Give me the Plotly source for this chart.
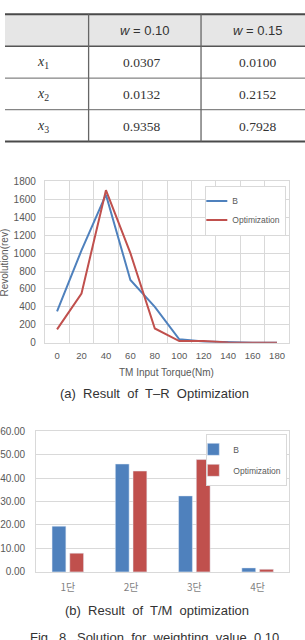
import plotly.graph_objects as go

# ---------------- data ----------------
torque_labels = ["0", "20", "40", "60", "80", "100", "120", "140", "160", "180"]
rev_B = [350, 1030, 1650, 700, 400, 40, 15, 5, 2, 0]
rev_opt = [150, 550, 1700, 1000, 160, 20, 20, 5, 2, 0]

stage_labels = ["1단", "2단", "3단", "4단"]
share_B = [19.5, 46.0, 32.4, 1.7]
share_opt = [8.0, 43.0, 47.9, 1.1]

table_header = ["", "<i>w</i> = 0.10", "<i>w</i> = 0.15"]
table_rows = ["<i>x</i><sub>1</sub>", "<i>x</i><sub>2</sub>", "<i>x</i><sub>3</sub>"]
col_w010 = ["0.0307", "0.0132", "0.9358"]
col_w015 = ["0.0100", "0.2152", "0.7928"]

caption_a = "(a)\u00a0 Result\u00a0 of\u00a0 T\u2013R\u00a0 Optimization"
caption_b = "(b)\u00a0 Result\u00a0 of\u00a0 T/M\u00a0 optimization"
caption_fig = "Fig.\u00a0 8.\u00a0 Solution\u00a0 for\u00a0 weighting\u00a0 value\u00a0 0.10"

W, H = 305, 640
BLUE = "#4f81bd"
RED = "#c0504d"
GRID = "#d9d9d9"
TICK = "#595959"
SANS = "Liberation Sans, Arial, sans-serif"
KR = "Noto Sans CJK KR, sans-serif"


def px(p):
    return p / W


def py(p):
    return 1 - p / H


fig = go.Figure()

fig.add_trace(go.Scatter(x=torque_labels, y=rev_B, mode="lines", name="B",
                         line=dict(color=BLUE, width=2), xaxis="x", yaxis="y",
                         legend="legend"))
fig.add_trace(go.Scatter(x=torque_labels, y=rev_opt, mode="lines", name="Optimization",
                         line=dict(color=RED, width=2), xaxis="x", yaxis="y",
                         legend="legend"))

fig.add_trace(go.Bar(x=stage_labels, y=share_B, name="B", marker_color=BLUE,
                     xaxis="x2", yaxis="y2", legend="legend2", legendgroup="g1"))
fig.add_trace(go.Bar(x=stage_labels, y=share_opt, name="Optimization", marker_color=RED,
                     xaxis="x2", yaxis="y2", legend="legend2", legendgroup="g2"))

axis_common = dict(showline=True, mirror=True, linecolor=GRID, linewidth=1,
                   gridcolor=GRID, gridwidth=1, zeroline=False,
                   tickfont=dict(family=SANS, size=10, color=TICK))

fig.update_layout(
    width=W, height=H, autosize=False,
    margin=dict(l=0, r=0, t=0, b=0),
    paper_bgcolor="white", plot_bgcolor="white",
    showlegend=True,
    barmode="group", bargap=0.44, bargroupgap=0.22,
    xaxis=dict(domain=[px(40.5), px(289)], type="category", tickson="boundaries",
               range=[-0.5, len(torque_labels) - 0.5], tickangle=0,
               ticks="", showgrid=True, anchor="y", ticklabelstandoff=4,
               showline=True, mirror=True, linecolor=GRID, linewidth=1,
               gridcolor=GRID, gridwidth=1, zeroline=False,
               tickfont=dict(family=SANS, size=9.5, color=TICK)),
    yaxis=dict(domain=[py(343.3), py(178.6)], range=[0, 1800], dtick=200,
               ticks="", ticklabelstandoff=6, anchor="x", **axis_common),
    xaxis2=dict(domain=[px(31.7), px(289)], type="category", showgrid=False,
                ticks="", anchor="y2", ticklabelstandoff=6, tickangle=0,
                **{**axis_common, "tickfont": dict(family=KR, size=10, color="#7f7f7f")}),
    yaxis2=dict(domain=[py(576.7), py(433.3)], range=[0, 60], dtick=10,
                tickformat=".2f", ticks="", ticklabelstandoff=8, anchor="x2",
                **axis_common),
    legend=dict(x=px(286), y=py(183), xanchor="right", yanchor="top",
                bgcolor="white", bordercolor=GRID, borderwidth=1,
                font=dict(family=SANS, size=8.5, color=TICK),
                itemwidth=30, indentation=-14, tracegroupgap=0),
    legend2=dict(x=px(287), y=py(436), xanchor="right", yanchor="top",
                 bgcolor="white", bordercolor=GRID, borderwidth=1,
                 font=dict(family=SANS, size=8.5, color=TICK),
                 itemwidth=30, indentation=-14, tracegroupgap=2),
)

shapes = []
# table
shapes.append(dict(type="rect", xref="paper", yref="paper", x0=0, x1=1,
                   y0=py(41), y1=py(9), fillcolor="#e6e6e6", line=dict(width=0), layer="below"))
for yy, w, c in [(8.5, 2, "#4a4a4a"), (41, 1.5, "#555555"), (73.5, 1, "#666666"),
                 (105.7, 1, "#666666"), (138, 2, "#4a4a4a")]:
    shapes.append(dict(type="line", xref="paper", yref="paper", x0=0, x1=1,
                       y0=py(yy), y1=py(yy), line=dict(color=c, width=w)))
for xx in [85, 199.3]:
    shapes.append(dict(type="line", xref="paper", yref="paper", x0=px(xx), x1=px(xx),
                       y0=py(8.5), y1=py(138), line=dict(color="#666666", width=1.3)))

annotations = []
header_x = [42, 142.5, 257.5]
for hx, htxt in zip(header_x, table_header):
    if htxt:
        annotations.append(dict(text=htxt, x=px(hx), y=py(25), xref="paper", yref="paper",
                                showarrow=False, xanchor="center", yanchor="middle",
                                font=dict(family=SANS, size=13, color="#333333")))
row_y = [57.3, 90, 122.3]
for ry, rlab, v1, v2 in zip(row_y, table_rows, col_w010, col_w015):
    annotations.append(dict(text=rlab, x=px(39), y=py(ry), xref="paper", yref="paper",
                            showarrow=False, xanchor="center", yanchor="middle",
                            font=dict(family="Liberation Serif, serif", size=14, color="#333333")))
    annotations.append(dict(text=v1, x=px(139), y=py(ry), xref="paper", yref="paper",
                            showarrow=False, xanchor="center", yanchor="middle",
                            font=dict(family="Liberation Serif, serif", size=13.5, color="#333333")))
    annotations.append(dict(text=v2, x=px(256.5), y=py(ry), xref="paper", yref="paper",
                            showarrow=False, xanchor="center", yanchor="middle",
                            font=dict(family="Liberation Serif, serif", size=13.5, color="#333333")))

# axis titles
annotations.append(dict(text="Revolution(rev)", x=px(-0.5), y=py(262), xref="paper", yref="paper",
                        showarrow=False, textangle=-90, xanchor="center", yanchor="middle",
                        font=dict(family=SANS, size=10, color=TICK)))
annotations.append(dict(text="TM Input Torque(Nm)", x=px(164.5), y=py(373), xref="paper",
                        yref="paper", showarrow=False, xanchor="center", yanchor="middle",
                        font=dict(family=SANS, size=10, color=TICK)))
# captions
annotations.append(dict(text=caption_a, x=px(152), y=py(395), xref="paper", yref="paper",
                        showarrow=False, xanchor="center", yanchor="middle",
                        font=dict(family=SANS, size=13, color="#333333")))
annotations.append(dict(text=caption_b, x=px(155), y=py(616), xref="paper", yref="paper",
                        showarrow=False, xanchor="center", yanchor="middle",
                        font=dict(family=SANS, size=13, color="#333333")))
annotations.append(dict(text=caption_fig, x=px(152), y=py(634), xref="paper", yref="paper",
                        showarrow=False, xanchor="center", yanchor="top",
                        font=dict(family=SANS, size=13, color="#333333")))

fig.update_layout(shapes=shapes, annotations=annotations)

fig.write_html("out.html")
